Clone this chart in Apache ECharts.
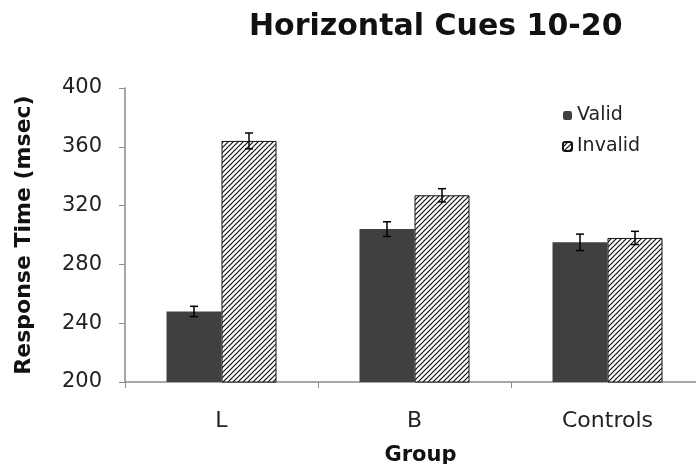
<!DOCTYPE html>
<html>
<head>
<meta charset="utf-8">
<script src="https://cdn.jsdelivr.net/npm/echarts@6/dist/echarts.min.js"></script>
<style>
  html, body { margin: 0; padding: 0; background: #fff; }
  #main { width: 696px; height: 464px; }
</style>
</head>
<body>
<div id="main"></div>
<script>
// data
var categories = ['L', 'B', 'Controls'];
var validValues = [248, 304, 295];
var invalidValues = [364, 327, 298];
var validErr = [3.5, 5, 5.6];
var invalidErr = [5.4, 4.5, 4.5];
var yTicks = [200, 240, 280, 320, 360, 400];

var FONT = 'DejaVu Sans';
var BAR_W = 55;

// diagonal hatch for the "Invalid" bars
function hatchPattern() {
    var c = document.createElement('canvas');
    c.width = 5; c.height = 5;
    var ctx = c.getContext('2d');
    ctx.fillStyle = '#fff';
    ctx.fillRect(0, 0, 5, 5);
    ctx.strokeStyle = '#111';
    ctx.lineWidth = 1.2;
    ctx.beginPath();
    ctx.moveTo(0, 5); ctx.lineTo(5, 0);
    ctx.moveTo(-1, 1); ctx.lineTo(1, -1);
    ctx.moveTo(4, 6); ctx.lineTo(6, 4);
    ctx.stroke();
    return c;
}

function errData(vals, errs) {
    return vals.map(function (v, i) { return [i, v, errs[i]]; });
}

function errRender(offset) {
    return function (params, api) {
        var i = api.value(0), v = api.value(1), e = api.value(2);
        var hi = api.coord([i, v + e]);
        var lo = api.coord([i, v - e]);
        var x = hi[0] + offset;
        var style = { stroke: '#000', lineWidth: 1.5 };
        return {
            type: 'group',
            children: [
                { type: 'line', shape: { x1: x, y1: hi[1], x2: x, y2: lo[1] }, style: style },
                { type: 'line', shape: { x1: x - 4, y1: hi[1], x2: x + 4, y2: hi[1] }, style: style },
                { type: 'line', shape: { x1: x - 4, y1: lo[1], x2: x + 4, y2: lo[1] }, style: style }
            ]
        };
    };
}

var myChart = echarts.init(document.getElementById('main'));

var option = {
    backgroundColor: '#fff',
    animation: false,
    textStyle: { fontFamily: FONT },
    title: {
        text: 'Horizontal Cues 10-20',
        left: 249,
        top: 12,
        padding: 0,
        textStyle: { fontFamily: FONT, fontSize: 30, fontWeight: 'bold', color: '#111' }
    },
    legend: {
        data: ['Valid', 'Invalid'],
        orient: 'vertical',
        left: 562,
        top: 106,
        itemWidth: 9,
        itemHeight: 9,
        itemGap: 12,
        padding: 0,
        textStyle: { fontFamily: FONT, fontSize: 19, color: '#222', lineHeight: 19 }
    },
    grid: { left: 125, right: -8, top: 88, bottom: 82, outerBoundsMode: 'none', containLabel: false },
    xAxis: {
        type: 'category',
        data: categories,
        name: 'Group',
        nameLocation: 'middle',
        nameGap: 63,
        nameTextStyle: { fontFamily: FONT, fontSize: 21, fontWeight: 'bold', color: '#111', padding: [0, 0, 0, 12] },
        axisLine: { lineStyle: { color: '#8a8a8a', width: 1.5 } },
        axisTick: { show: true, length: 6, alignWithLabel: false, lineStyle: { color: '#8a8a8a' } },
        axisLabel: { fontFamily: FONT, fontSize: 22, color: '#222', margin: 28 }
    },
    yAxis: {
        type: 'value',
        min: yTicks[0],
        max: yTicks[yTicks.length - 1],
        interval: 40,
        name: 'Response Time (msec)',
        nameLocation: 'middle',
        nameGap: 90,
        nameTextStyle: { fontFamily: FONT, fontSize: 22, fontWeight: 'bold', color: '#111' },
        axisLine: { show: true, lineStyle: { color: '#8a8a8a', width: 1.5 } },
        axisTick: { show: true, length: 6, lineStyle: { color: '#8a8a8a' } },
        splitLine: { show: false },
        axisLabel: { fontFamily: FONT, fontSize: 21, color: '#222', margin: 23 }
    },
    series: [
        {
            name: 'Valid',
            type: 'bar',
            data: validValues,
            barWidth: BAR_W,
            barGap: 0,
            itemStyle: { color: '#404040' }
        },
        {
            name: 'Invalid',
            type: 'bar',
            data: invalidValues,
            barWidth: BAR_W,
            barGap: 0,
            itemStyle: {
                color: { image: hatchPattern(), repeat: 'repeat' },
                borderColor: '#111',
                borderWidth: 1
            }
        },
        {
            name: 'validErr',
            type: 'custom',
            data: errData(validValues, validErr),
            encode: { x: 0, y: 1 },
            renderItem: errRender(-BAR_W / 2),
            z: 10
        },
        {
            name: 'invalidErr',
            type: 'custom',
            data: errData(invalidValues, invalidErr),
            encode: { x: 0, y: 1 },
            renderItem: errRender(BAR_W / 2),
            z: 10
        }
    ]
};

myChart.setOption(option, true);
</script>
</body>
</html>
